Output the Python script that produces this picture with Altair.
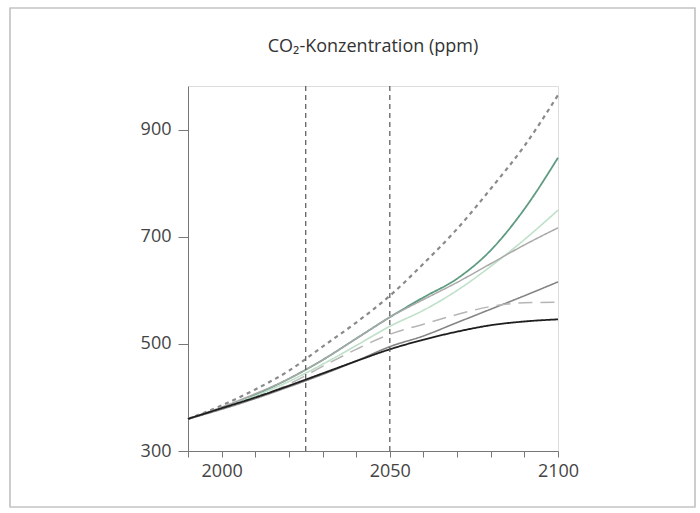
import altair as alt
import pandas as pd

years = [1990, 2000, 2010, 2020, 2030, 2040, 2050, 2060, 2070, 2080, 2090, 2100]

s_dotted = [360, 385, 415, 450, 495, 540, 590, 650, 715, 790, 870, 965]
s_darkgreen = [360, 380, 405, 435, 470, 510, 550, 587, 622, 675, 752, 848]
s_lightgreen = [360, 381, 403, 430, 462, 497, 533, 563, 600, 645, 695, 750]
s_gray = [360, 382, 407, 435, 470, 510, 550, 583, 615, 650, 685, 717]
s_darkgray = [360, 378, 398, 420, 443, 468, 495, 515, 540, 565, 590, 616]
s_longdash = [360, 380, 400, 425, 458, 490, 518, 537, 555, 570, 577, 578]
s_black = [360, 380, 400, 422, 445, 468, 490, 508, 523, 535, 542, 546]

series = {
    "A1FI": s_dotted,
    "A2": s_darkgreen,
    "A1B": s_lightgreen,
    "B2a": s_gray,
    "B2": s_darkgray,
    "A1T": s_longdash,
    "B1": s_black,
}
names = list(series.keys())
colors = ["#8a8a8a", "#5e9b80", "#bfe0c9", "#a9a9a9", "#858585", "#b5b5b5", "#1e1e1e"]
dashes = [[4, 4], [1, 0], [1, 0], [1, 0], [1, 0], [14, 8], [1, 0]]
widths = [2.2, 1.8, 1.6, 1.5, 1.6, 1.5, 1.8]

title_text = "CO₂-Konzentration (ppm)"
vlines = [2025, 2050]
y_ticks = [300, 500, 700, 900]
x_ticks = [1990, 2000, 2010, 2020, 2030, 2040, 2050, 2060, 2070, 2080, 2090, 2100]
x_labels = [2000, 2050, 2100]

rows = []
for n in names:
    for yr, v in zip(years, series[n]):
        rows.append({"year": yr, "ppm": v, "szenario": n})
df = pd.DataFrame(rows)

xscale = alt.Scale(domain=[1990, 2100], nice=False, zero=False)
yscale = alt.Scale(domain=[300, 982], nice=False, zero=False)

cond = " || ".join("abs(datum.value - %d) < 0.5" % v for v in x_labels)
label_expr = "(" + cond + ") ? format(datum.value, 'd') : ''"

x_axis = alt.Axis(values=x_ticks, tickCount=30, labelExpr=label_expr, title=None,
                  tickSize=6, labelPadding=5, domainColor="#777", tickColor="#777",
                  labelOverlap=False, labelFlush=False, labelFontSize=18, labelColor="#444",
                  labelFont="Open Sans", grid=False)
y_axis = alt.Axis(values=y_ticks, tickCount=30, title=None, tickSize=10, labelPadding=7,
                  domainColor="#777", tickColor="#777", labelFontSize=18,
                  labelOverlap=False, labelFlush=False, labelColor="#444", labelFont="Open Sans",
                  grid=False)

base_x = alt.X("year:Q", scale=xscale, axis=x_axis)
base_y = alt.Y("ppm:Q", scale=yscale, axis=y_axis)

layers = []
for n, c, d, w in zip(names, colors, dashes, widths):
    layers.append(
        alt.Chart(df[df.szenario == n]).mark_line(
            color=c, strokeDash=d, strokeWidth=w, interpolate="monotone"
        ).encode(x=base_x, y=base_y)
    )

vdf = pd.DataFrame({"year": vlines})
rules = alt.Chart(vdf).mark_rule(color="#555", strokeDash=[5, 4], strokeWidth=1.2).encode(
    x=base_x
)

frame = alt.Chart(vdf).mark_rect(fill=None, stroke="#c4c4c4", strokeWidth=1.2, clip=False).encode(
    x=alt.value(-178), x2=alt.value(507), y=alt.value(-78), y2=alt.value(421)
)

tdf = pd.DataFrame({"t": [title_text]})
title = alt.Chart(tdf).mark_text(
    font="Open Sans", fontSize=18, color="#333", align="center", baseline="middle", clip=False
).encode(text="t:N", x=alt.value(185), y=alt.value(-39))

chart = alt.layer(*layers, rules, frame, title).properties(
    width=370,
    height=365,
    autosize=alt.AutoSizeParams(type="none"),
    padding={"left": 188, "top": 86, "right": 142, "bottom": 62},
).configure_view(stroke="#999", strokeWidth=1.2).configure(background="white")

chart.save("out.html", embed_options={"renderer": "svg", "actions": False})
